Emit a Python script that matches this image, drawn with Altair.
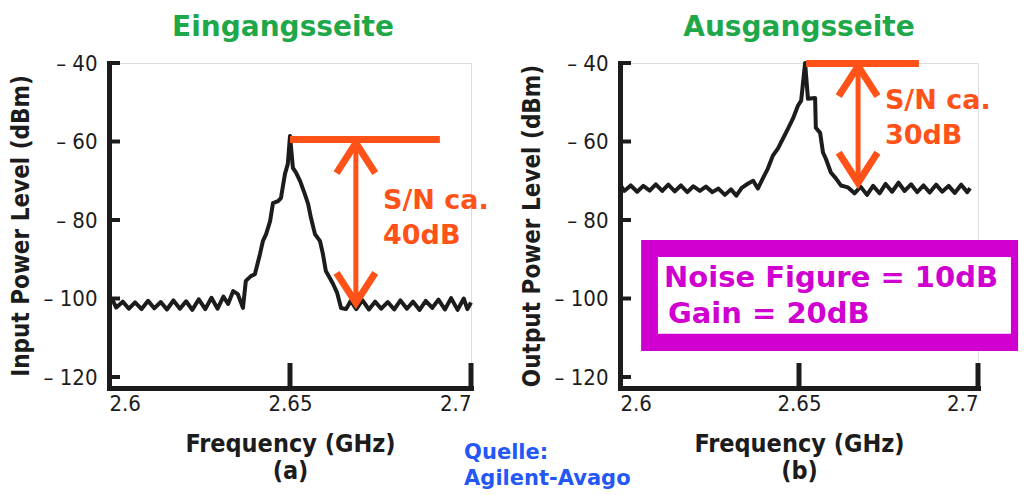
import altair as alt
import pandas as pd

# ---------------- data ----------------
# (a) Eingangsseite: input spectrum
in_freq = [2.6000, 2.6010, 2.6020, 2.6038, 2.6055, 2.6072, 2.6090, 2.6108, 2.6125, 2.6143,
           2.6160, 2.6178, 2.6196, 2.6213, 2.6230, 2.6248, 2.6266, 2.6283, 2.6300, 2.6316,
           2.6329, 2.6343, 2.6356, 2.6370, 2.6378, 2.6392, 2.6403, 2.6417, 2.6425, 2.6434,
           2.6445, 2.6453, 2.6467, 2.6475, 2.6486, 2.6494, 2.6500, 2.6508, 2.6517, 2.6528,
           2.6541, 2.6550, 2.6558, 2.6569, 2.6583, 2.6591, 2.6599, 2.6610, 2.6619, 2.6630,
           2.6641, 2.6655, 2.6668, 2.6683, 2.6700, 2.6718, 2.6735, 2.6752, 2.6770, 2.6788,
           2.6805, 2.6823, 2.6840, 2.6858, 2.6875, 2.6893, 2.6910, 2.6928, 2.6945, 2.6963,
           2.6980, 2.6990, 2.7000]
in_level = [-100.0, -100.4, -102.3, -100.8, -102.6, -101.0, -102.7, -100.6, -102.5, -100.9,
            -102.8, -100.5, -102.6, -100.7, -102.9, -100.2, -102.7, -99.8, -102.6, -99.5,
            -101.4, -98.1, -98.9, -102.4, -95.5, -94.3, -93.8, -88.7, -85.4, -83.6,
            -80.3, -75.7, -75.2, -74.4, -68.3, -65.7, -58.6, -66.7, -68.0, -70.1,
            -73.4, -75.9, -79.5, -83.6, -85.4, -88.7, -93.0, -94.8, -96.3, -98.5,
            -102.4, -102.7, -100.6, -102.7, -100.4, -102.8, -100.8, -102.6, -100.9, -102.8,
            -100.5, -102.6, -100.8, -102.9, -100.6, -102.4, -100.3, -102.8, -99.9, -102.9,
            -100.0, -102.7, -101.0]

# (b) Ausgangsseite: output spectrum
out_freq = [2.6000, 2.6012, 2.6030, 2.6048, 2.6065, 2.6083, 2.6100, 2.6118, 2.6135, 2.6153,
            2.6170, 2.6188, 2.6205, 2.6223, 2.6240, 2.6258, 2.6275, 2.6293, 2.6310, 2.6325,
            2.6340, 2.6358, 2.6372, 2.6385, 2.6399, 2.6413, 2.6427, 2.6441, 2.6455, 2.6469,
            2.6483, 2.6497, 2.6506, 2.6517, 2.6525, 2.6545, 2.6547, 2.6559, 2.6567, 2.6575,
            2.6589, 2.6603, 2.6617, 2.6637, 2.6655, 2.6672, 2.6690, 2.6707, 2.6725, 2.6742,
            2.6760, 2.6778, 2.6795, 2.6813, 2.6830, 2.6848, 2.6865, 2.6883, 2.6900, 2.6918,
            2.6935, 2.6953, 2.6970, 2.6978]
out_level = [-71.0, -72.6, -71.2, -72.8, -71.3, -72.5, -70.9, -72.6, -71.0, -72.7,
             -71.2, -72.9, -71.4, -72.6, -71.5, -72.9, -72.0, -73.6, -72.2, -73.8,
             -71.8, -70.7, -70.0, -72.0, -69.4, -66.9, -63.6, -61.8, -59.3, -56.8,
             -54.2, -50.9, -49.6, -40.0, -49.1, -48.9, -56.5, -57.8, -62.8, -64.4,
             -67.9, -69.4, -71.2, -71.7, -73.2, -71.5, -73.6, -71.3, -73.2, -70.8,
             -72.8, -70.5, -72.6, -70.9, -72.9, -71.2, -73.0, -71.0, -72.8, -71.3,
             -73.1, -71.0, -72.9, -71.9]

y_tick_values = [-40, -60, -80, -100, -120]
x_tick_values = [2.6, 2.65, 2.7]
x_inner_ticks = [2.65, 2.7]

# S/N annotations: bar start/end, arrow position, signal and noise level
in_sn = dict(bar_f=[2.6500, 2.6914], level=-59.5, arrow_f=2.6682, top=-60.4, bottom=-101.1,
             text_f=2.6757, lines=["S/N ca.", "40dB"], text_v=[-75.2, -84.1])
out_sn = dict(bar_f=[2.6520, 2.6835], level=-40.1, arrow_f=2.6665, top=-40.8, bottom=-70.5,
              text_f=2.6740, lines=["S/N ca.", "30dB"], text_v=[-49.7, -58.6])

box_outer_f = [2.6059, 2.7112]
box_outer_v = [-85.1, -113.4]
box_inner_f = [2.6106, 2.7092]
box_inner_v = [-89.4, -109.0]
box_lines = ["Noise Figure = 10dB", "Gain = 20dB"]
box_text_f = [2.6123, 2.6134]
box_text_v = [-94.8, -103.9]

source_lines = ["Quelle:", "Agilent-Avago"]
source_f = [2.6981, 2.6981]
source_v = [-139.4, -146.0]

# ---------------- styling ----------------
X_DOMAIN = [2.6, 2.7]
Y_DOMAIN = [-122.8, -40]
HEIGHT = 325
INK = "#1c1c1c"
ORANGE = "#FF5218"
GREEN = "#1FA84A"
MAGENTA = "#D000D0"
BLUE = "#2457F5"
COND = "Liberation Sans Narrow, Arial Narrow, DejaVu Sans Condensed, Roboto, sans-serif"
WIDE = "DejaVu Sans, Verdana, sans-serif"


def panel(freq, level, ytitle, sub, title, width, sn, title_dx, extra=None):
    x = alt.X("f:Q", scale=alt.Scale(domain=X_DOMAIN, nice=False, zero=False),
              axis=alt.Axis(values=x_tick_values, format="~g", ticks=False, grid=False,
                            domainWidth=5, domainColor=INK, domainCap="square",
                            labelFont=COND, labelFontSize=22, labelColor=INK, labelPadding=5,
                            labelFlush=True,
                            title=["Frequency (GHz)", sub], titleFont=COND, titleFontSize=25,
                            titleFontWeight="bold", titleColor=INK, titleLineHeight=27,
                            titlePadding=17))
    y = alt.Y("v:Q", scale=alt.Scale(domain=Y_DOMAIN, nice=False, zero=False),
              axis=alt.Axis(values=y_tick_values, labelExpr="'\u2013 ' + abs(datum.value)",
                            ticks=False, grid=False, domainWidth=5, domainColor=INK,
                            domainCap="square",
                            labelFont=COND, labelFontSize=22, labelColor=INK, labelPadding=12,
                            title=ytitle, titleFont=COND, titleFontSize=24,
                            titleFontWeight="bold", titleColor=INK, titlePadding=10))

    curve = alt.Chart(pd.DataFrame({"f": freq, "v": level})).mark_line(
        color=INK, strokeWidth=4, strokeJoin="round").encode(x=x, y=y)

    yt = alt.Chart(pd.DataFrame({"v": y_tick_values})).mark_rule(
        color=INK, strokeWidth=4).encode(y=y, x=alt.value(0), x2=alt.value(11))
    xt = alt.Chart(pd.DataFrame({"f": x_inner_ticks})).mark_rule(
        color=INK, strokeWidth=5).encode(x=x, y=alt.value(HEIGHT - 25), y2=alt.value(HEIGHT))

    bar = alt.Chart(pd.DataFrame({"f": [sn["bar_f"][0]], "f2": [sn["bar_f"][1]],
                                  "v": [sn["level"]]})).mark_rule(
        color=ORANGE, strokeWidth=7).encode(x=x, x2="f2:Q", y=y)
    shaft = alt.Chart(pd.DataFrame({"f": [sn["arrow_f"]], "v": [sn["top"]],
                                    "v2": [sn["bottom"]]})).mark_rule(
        color=ORANGE, strokeWidth=5).encode(x=x, y=y, y2="v2:Q")
    head_up = alt.Chart(pd.DataFrame({"f": [sn["arrow_f"]], "v": [sn["top"]]})).mark_point(
        shape="M -1 1.55 L 0 0 L 1 1.55", filled=False, strokeWidth=7, size=1500,
        color=ORANGE, opacity=1, strokeJoin="miter").encode(x=x, y=y)
    head_dn = alt.Chart(pd.DataFrame({"f": [sn["arrow_f"]], "v": [sn["bottom"]]})).mark_point(
        shape="M -1 -1.55 L 0 0 L 1 -1.55", filled=False, strokeWidth=7, size=1500,
        color=ORANGE, opacity=1, strokeJoin="miter").encode(x=x, y=y)
    sn_text = alt.Chart(pd.DataFrame({"f": [sn["text_f"]] * 2, "v": sn["text_v"],
                                      "t": sn["lines"]})).mark_text(
        align="left", baseline="middle", font=WIDE, fontWeight="bold", fontSize=27,
        color=ORANGE).encode(x=x, y=y, text="t:N")

    layers = [curve, yt, xt, bar, shaft, head_up, head_dn, sn_text]
    if extra:
        layers += extra(x, y)
    return alt.layer(*layers).properties(
        width=width, height=HEIGHT,
        title=alt.TitleParams(title, font=WIDE, fontSize=28, fontWeight="bold", color=GREEN,
                              anchor="middle", offset=10, dx=title_dx))


def source_layer(x, y):
    return [alt.Chart(pd.DataFrame({"f": source_f, "v": source_v, "t": source_lines})).mark_text(
        align="left", baseline="middle", font=WIDE, fontWeight="bold", fontSize=21,
        color=BLUE).encode(x=x, y=y, text="t:N")]


def box_layer(x, y):
    outer = alt.Chart(pd.DataFrame({"f": [box_outer_f[0]], "f2": [box_outer_f[1]],
                                    "v": [box_outer_v[0]], "v2": [box_outer_v[1]]})).mark_rect(
        fill=MAGENTA, strokeWidth=0).encode(x=x, x2="f2:Q", y=y, y2="v2:Q")
    inner = alt.Chart(pd.DataFrame({"f": [box_inner_f[0]], "f2": [box_inner_f[1]],
                                    "v": [box_inner_v[0]], "v2": [box_inner_v[1]]})).mark_rect(
        fill="white", strokeWidth=0).encode(x=x, x2="f2:Q", y=y, y2="v2:Q")
    txt = alt.Chart(pd.DataFrame({"f": box_text_f, "v": box_text_v, "t": box_lines})).mark_text(
        align="left", baseline="middle", font=WIDE, fontWeight="bold", fontSize=29,
        color=MAGENTA).encode(x=x, y=y, text="t:N")
    return [outer, inner, txt]


left = panel(in_freq, in_level, "Input Power Level (dBm)", "(a)", "Eingangsseite", 362,
             in_sn, -7, source_layer)
right = panel(out_freq, out_level, "Output Power Level (dBm)", "(b)", "Ausgangsseite", 358,
              out_sn, 0, box_layer)

chart = alt.hconcat(left, right, spacing=149, bounds="flush").configure_view(
    stroke=None).configure(padding={"left": 0, "top": 5, "right": 0, "bottom": 0})

chart.save("out.html", embed_options={"renderer": "svg", "actions": False})
